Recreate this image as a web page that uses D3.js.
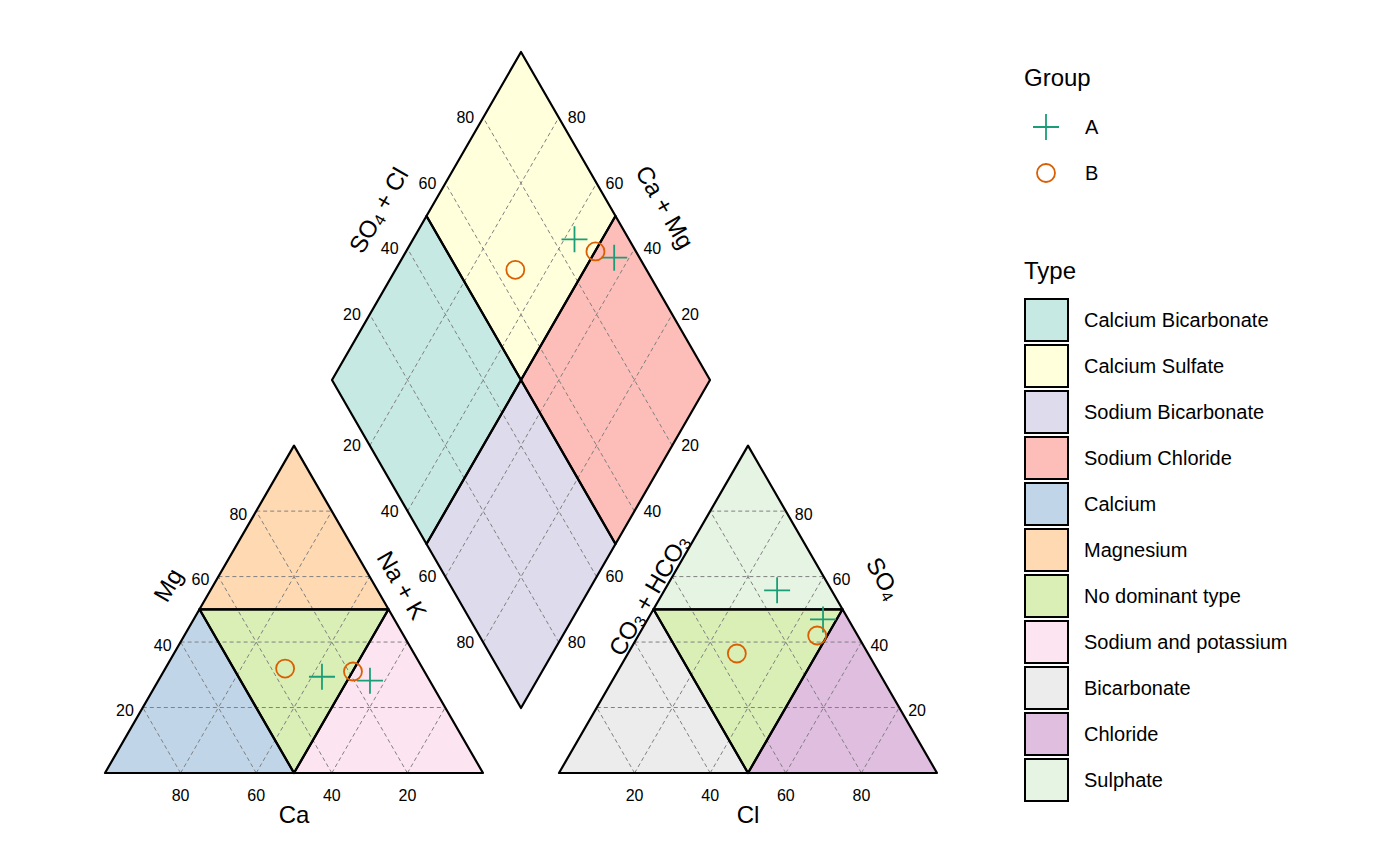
<!DOCTYPE html>
<html><head><meta charset="utf-8">
<script src="https://cdn.jsdelivr.net/npm/d3@7"></script>
<style>body{margin:0;background:#fff}text{font-family:"Liberation Sans",Arial,sans-serif}</style>
</head><body>
<svg id="chart" width="1400" height="865"></svg>
<script>
// samples: cations (%), anions (%)
const groups = ['A', 'B', 'A', 'B'];
const ca = [27.9, 36.4, 15.8, 18.9];
const mg = [29.4, 31.9, 28.2, 31.0];
const nak = [42.7, 31.7, 56.0, 50.1];
const so4 = [55.8, 36.5, 46.9, 42.0];
const cl = [29.8, 28.8, 46.4, 47.3];
const hco3 = [14.4, 34.7, 6.7, 10.7];
const ticks = [20, 40, 60, 80];
const typeNames = ['Calcium Bicarbonate', 'Calcium Sulfate', 'Sodium Bicarbonate', 'Sodium Chloride',
  'Calcium', 'Magnesium', 'No dominant type', 'Sodium and potassium', 'Bicarbonate', 'Chloride', 'Sulphate'];
const typeColors = ['#c6e9e3', '#ffffdb', '#dedbec', '#fdbdb8', '#c0d6e8', '#fed9b1',
  '#d9efb6', '#fce5f1', '#ececec', '#dfbedf', '#e6f4e3'];
const groupColors = { A: '#1b9e77', B: '#d95f02' };

const svg = d3.select('#chart');
const L = 378, H = L * Math.sqrt(3) / 2;
const baseY = 773;
const sx = d3.scaleLinear().domain([0, 100]).range([0, L]);
const sy = d3.scaleLinear().domain([0, 100]).range([0, H]);
const sd = d3.scaleLinear().domain([0, 200]).range([0, 656]); // diamond height

// ternary -> pixel; right% along base to the right, top% to apex
function tri(x0, right, top) { return [x0 + sx(right + top / 2), baseY - sy(top)]; }
const catX = 105, anX = 559;
const cat = (naV, mgV) => tri(catX, naV, mgV);
const an = (clV, soV) => tri(anX, clV, soV);
// diamond: a = SO4+Cl, c = Ca+Mg
const DB = [521, 708];
const dia = (a, c) => [DB[0] + sx(a - c) / 2, DB[1] - sd(a + c)];

const line = d3.line();
const layerFill = svg.append('g'), layerGrid = svg.append('g'), layerEdge = svg.append('g');

function poly(pts, fill) {
  layerFill.append('path').attr('d', line(pts) + 'Z').attr('fill', fill);
  layerEdge.append('path').attr('d', line(pts) + 'Z').attr('fill', 'none')
    .attr('stroke', '#000').attr('stroke-width', 2.2).attr('stroke-linejoin', 'round');
}
function grid(p, q) {
  layerGrid.append('line').attr('x1', p[0]).attr('y1', p[1]).attr('x2', q[0]).attr('y2', q[1])
    .attr('stroke', '#808080').attr('stroke-width', 1).attr('stroke-dasharray', '4,3');
}
function txt(x, y, s, size, rot, anchor) {
  const t = svg.append('text').attr('x', x).attr('y', y).attr('font-size', size)
    .attr('text-anchor', anchor || 'middle').attr('dominant-baseline', 'central')
    .attr('transform', rot ? `rotate(${rot},${x},${y})` : null);
  if (s !== '') t.text(s);
  return t;
}

// ternary triangles; regions: [left, top, middle, right]
function ternary(f, regionIdx) {
  const A = f(0, 0), B = f(100, 0), T = f(0, 100);
  const mL = f(0, 50), mR = f(50, 50), mB = f(50, 0);
  poly([A, mB, mL], typeColors[regionIdx[0]]);
  poly([mL, mR, T], typeColors[regionIdx[1]]);
  poly([mL, mR, mB], typeColors[regionIdx[2]]);
  poly([mB, B, mR], typeColors[regionIdx[3]]);
  ticks.forEach(v => {
    grid(f(0, v), f(100 - v, v));
    grid(f(v, 0), f(v, 100 - v));
    grid(f(v, 0), f(0, v));
  });
}
ternary(cat, [4, 5, 6, 7]);
ternary(an, [8, 10, 6, 9]);

// diamond
const dT = dia(100, 100), dL = dia(0, 100), dR = dia(100, 0);
const dC = dia(50, 50);
poly([dL, dia(50, 100), dC, dia(0, 50)], typeColors[0]);
poly([dia(50, 100), dT, dia(100, 50), dC], typeColors[1]);
poly([dia(0, 50), dC, dia(50, 0), DB], typeColors[2]);
poly([dC, dia(100, 50), dR, dia(50, 0)], typeColors[3]);
ticks.forEach(v => { grid(dia(v, 0), dia(v, 100)); grid(dia(0, v), dia(100, v)); });

// tick labels
ticks.forEach(v => {
  const pc = cat(100 - v, 0); txt(pc[0], pc[1] + 22, v, 16);
  const pm = cat(0, v); txt(pm[0] - 9, pm[1] + 3, v, 16, 0, 'end');
  const pa = an(v, 0); txt(pa[0], pa[1] + 22, v, 16);
  const ps = an(100 - v, v); txt(ps[0] + 9, ps[1] + 3, v, 16, 0, 'start');
  const u1 = dia(v, 100); txt(u1[0] - 9, u1[1], v, 16, 0, 'end');
  const u2 = dia(100, v); txt(u2[0] + 9, u2[1], v, 16, 0, 'start');
  const l1 = dia(0, 100 - v); txt(l1[0] - 9, l1[1], v, 16, 0, 'end');
  const l2 = dia(100 - v, 0); txt(l2[0] + 9, l2[1], v, 16, 0, 'start');
});

// axis titles
txt(294, 814, 'Ca', 24);
txt(748, 814, 'Cl', 24);
txt(168, 585, 'Mg', 24, -60);
txt(402, 585, 'Na + K', 24, 60);
const t1 = txt(648, 595, '', 24, -60);
t1.append('tspan').text('CO');
t1.append('tspan').text('3').attr('font-size', 16).attr('dy', 6);
t1.append('tspan').text(' + HCO').attr('dy', -6);
t1.append('tspan').text('3').attr('font-size', 16).attr('dy', 6);
const t2 = txt(884, 578, '', 24, 60);
t2.append('tspan').text('SO');
t2.append('tspan').text('4').attr('font-size', 16).attr('dy', 6);
const t3 = txt(378, 210, '', 24, -60);
t3.append('tspan').text('SO');
t3.append('tspan').text('4').attr('font-size', 16).attr('dy', 6);
t3.append('tspan').text(' + Cl').attr('dy', -6);
txt(665, 207, 'Ca + Mg', 24, 60);

// points
function mark(p, g) {
  const c = groupColors[g];
  if (g === 'A') {
    svg.append('path').attr('d', `M${p[0] - 13},${p[1]}H${p[0] + 13}M${p[0]},${p[1] - 13}V${p[1] + 13}`)
      .attr('stroke', c).attr('stroke-width', 1.8);
  } else {
    svg.append('circle').attr('cx', p[0]).attr('cy', p[1]).attr('r', 9)
      .attr('fill', 'none').attr('stroke', c).attr('stroke-width', 1.8);
  }
}
groups.forEach((g, i) => {
  mark(cat(nak[i], mg[i]), g);
  mark(an(cl[i], so4[i]), g);
  mark(dia(so4[i] + cl[i], ca[i] + mg[i]), g);
});

// legends
txt(1024, 77, 'Group', 24, 0, 'start');
['A', 'B'].forEach((g, i) => {
  mark([1046, 127 + i * 46], g);
  txt(1085, 127 + i * 46, g, 20, 0, 'start');
});
txt(1024, 270, 'Type', 24, 0, 'start');
typeNames.forEach((n, i) => {
  const y = 320 + i * 46;
  svg.append('rect').attr('x', 1025).attr('y', y - 21).attr('width', 43).attr('height', 42)
    .attr('fill', typeColors[i]).attr('stroke', '#000').attr('stroke-width', 2);
  txt(1084, y, n, 20, 0, 'start');
});
</script>
</body></html>
